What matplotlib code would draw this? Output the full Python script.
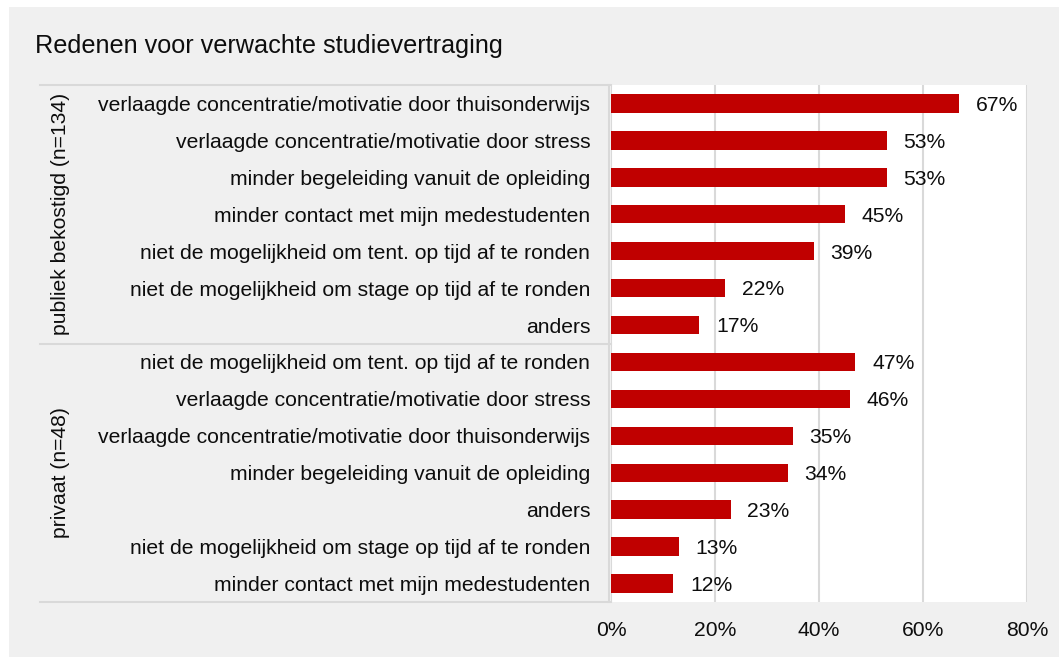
import matplotlib
matplotlib.use("Agg")
import matplotlib.pyplot as plt
from matplotlib.patches import Rectangle
import matplotlib.transforms as mtransforms

plt.rcParams['font.family'] = ['Liberation Sans', 'DejaVu Sans']

title = "Redenen voor verwachte studievertraging"
groups = ["publiek bekostigd (n=134)", "privaat (n=48)"]
labels_publiek = [
    "verlaagde concentratie/motivatie door thuisonderwijs",
    "verlaagde concentratie/motivatie door stress",
    "minder begeleiding vanuit de opleiding",
    "minder contact met mijn medestudenten",
    "niet de mogelijkheid om tent. op tijd af te ronden",
    "niet de mogelijkheid om stage op tijd af te ronden",
    "anders",
]
values_publiek = [67, 53, 53, 45, 39, 22, 17]
labels_privaat = [
    "niet de mogelijkheid om tent. op tijd af te ronden",
    "verlaagde concentratie/motivatie door stress",
    "verlaagde concentratie/motivatie door thuisonderwijs",
    "minder begeleiding vanuit de opleiding",
    "anders",
    "niet de mogelijkheid om stage op tijd af te ronden",
    "minder contact met mijn medestudenten",
]
values_privaat = [47, 46, 35, 34, 23, 13, 12]
xticks = [0, 20, 40, 60, 80]

labels = labels_publiek + labels_privaat
values = values_publiek + values_privaat

W, H = 1059, 657
FS = 15.2
TXT = '#0d0d0d'
fig = plt.figure(figsize=(W / 100, H / 100), dpi=100)
fig.patch.set_facecolor('white')
bg = '#f0f0f0'
fig.add_artist(Rectangle((9 / W, 0), 1 - 9 / W, 1 - 7 / H, transform=fig.transFigure,
                         facecolor=bg, edgecolor='none', zorder=-10))

ax = fig.add_axes([611 / W, 1 - 602 / H, (1027 - 611) / W, (602 - 85) / H])
ax.set_facecolor('white')
pos = list(range(len(labels)))
ax.barh(pos, values, height=0.5, color='#c00000', zorder=3)
for p, v in zip(pos, values):
    ax.text(v + 3.2, p + 0.05, f"{v}%", va='center', ha='left', fontsize=FS, color=TXT, zorder=4)

ax.set_xlim(0, 80)
ax.set_ylim(len(labels) - 0.5, -0.5)
ax.set_xticks(xticks)
ax.set_xticklabels([f"{t}%" for t in xticks], fontsize=FS, color=TXT)
ax.set_yticks(pos)
ax.set_yticklabels(labels, fontsize=FS, color=TXT)
ax.tick_params(axis='both', length=0)
ax.tick_params(axis='y', pad=15)
ax.tick_params(axis='x', pad=14)
for s in ax.spines.values():
    s.set_visible(False)
ax.xaxis.grid(True, color='#d9d9d9', linewidth=1.5, zorder=0)
ax.set_axisbelow(True)

# category box lines
trans = mtransforms.blended_transform_factory(ax.transAxes, ax.transData)
x0 = (40 - 611) / (1027 - 611)
for yb in [-0.5, 6.5, 13.5]:
    ax.plot([x0, 0], [yb, yb], transform=trans, color='#d9d9d9', lw=1.5, clip_on=False, zorder=1)
ax.plot([-0.004, -0.004], [-0.5, 13.5], transform=trans, color='#d9d9d9', lw=1.5, clip_on=False, zorder=1)

xg = (61 - 611) / (1027 - 611)
ax.text(xg, 3, groups[0], rotation=90, ha='center', va='center', transform=trans,
        fontsize=FS, color=TXT)
ax.text(xg, 10, groups[1], rotation=90, ha='center', va='center', transform=trans,
        fontsize=FS, color=TXT)

fig.text(35 / W, 1 - 46 / H, title, fontsize=18.2, color=TXT, ha='left', va='center')

fig.savefig('out.png', dpi=100, facecolor=fig.get_facecolor())
